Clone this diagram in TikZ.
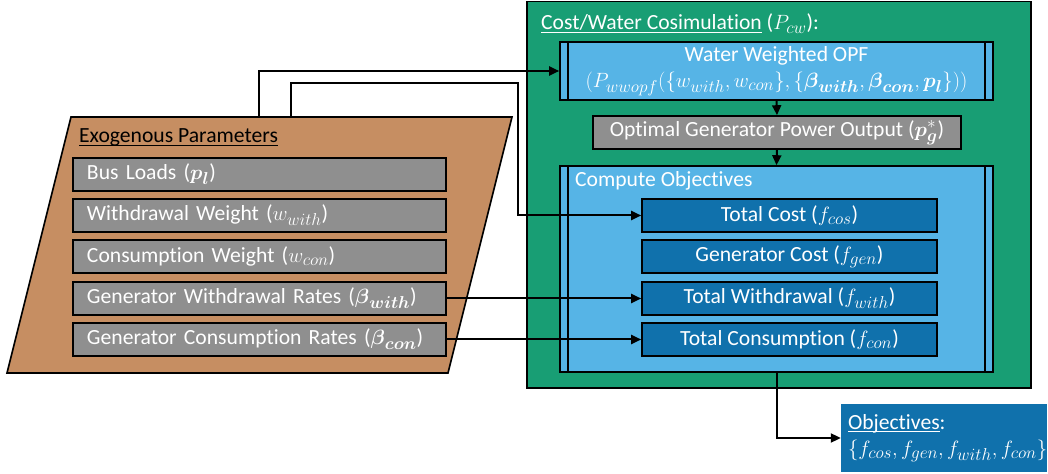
\documentclass[tikz,border=0pt]{standalone}
\usepackage{amsmath}
\usepackage{fontspec}
\setmainfont{Carlito}[Ligatures={NoCommon}]
\DeclareMathSizes{21.7}{21.7}{16.5}{13}
\newlength{\myullen}
\newcommand{\myul}[1]{\settowidth{\myullen}{#1}\rlap{\rule[-3bp]{\myullen}{1.2bp}}#1}
\usetikzlibrary{arrows.meta,calc}
\definecolor{cgreen}{RGB}{24,158,116}
\definecolor{clight}{RGB}{86,180,230}
\definecolor{cdark}{RGB}{16,113,172}
\definecolor{cgray}{RGB}{143,143,143}
\definecolor{ctan}{RGB}{198,142,98}
\begin{document}
\begin{tikzpicture}[x=1bp,y=-1bp,
  txt/.style={font=\fontsize{21.7pt}{26pt}\selectfont},
  box/.style={txt, draw=black, line width=1.6bp, inner sep=0pt, text=white},
  graybox/.style={box, fill=cgray, minimum height=33bp, text width=345bp, inner xsep=14bp, align=left},
  bluebox/.style={box, fill=cdark, minimum width=295bp, minimum height=33bp},
  procbox/.style={box, fill=clight, minimum width=433bp},
  conn/.style={line width=2bp, -{Triangle[length=10bp,width=9bp]}}]
\useasboundingbox (0,0) rectangle (1048,474);

% cosimulation container
\node[box, fill=cgreen, minimum width=504bp, minimum height=386.5bp] (cosim) at (779,194.75) {};
\node[txt, anchor=base west, text=white, inner sep=0pt] (cosimtitle) at (541,30) {\myul{Cost/Water Cosimulation} ($P_{cw}$):};

% water weighted OPF
\node[procbox, minimum height=58bp, align=center] (opf) at (776.5,71) {Water Weighted OPF\\[0bp]
$(P_{wwopf}(\{w_{with},w_{con}\},\{\boldsymbol{\beta}_{\boldsymbol{with}},\boldsymbol{\beta}_{\boldsymbol{con}},\boldsymbol{p}_{\boldsymbol{l}}\}))$};
\draw[line width=1.6bp] ([xshift=9bp]opf.north west) -- ([xshift=9bp]opf.south west);
\draw[line width=1.6bp] ([xshift=-9bp]opf.north east) -- ([xshift=-9bp]opf.south east);

% optimal generator output
\node[box, fill=cgray, minimum width=368bp, minimum height=33bp] (opt) at (777,132.5) {Optimal Generator Power Output ($\boldsymbol{p}_{\boldsymbol{g}}^{*}$)};

% compute objectives
\node[procbox, minimum height=206bp] (comp) at (776.5,269) {};
\draw[line width=1.6bp] ([xshift=9bp]comp.north west) -- ([xshift=9bp]comp.south west);
\draw[line width=1.6bp] ([xshift=-9bp]comp.north east) -- ([xshift=-9bp]comp.south east);
\node[txt, anchor=base west, text=white, inner sep=0pt] (comptitle) at (575,187) {Compute Objectives};

\node[bluebox] (tc)  at (789.5,215.5) {Total Cost ($f_{cos}$)};
\node[bluebox] (gc)  at (789.5,256.5) {Generator Cost ($f_{gen}$)};
\node[bluebox] (tw)  at (789.5,298.5) {Total Withdrawal ($f_{with}$)};
\node[bluebox] (tcn) at (789.5,339.5) {Total Consumption ($f_{con}$)};

% objectives output
\node[txt, fill=cdark, text=white, minimum width=206bp, minimum height=68bp, text width=192bp, inner xsep=7bp, inner ysep=0pt, align=left] (obj) at (944,438)
  {\myul{Objectives}:\\[0bp] $\{f_{cos},f_{gen},f_{with},f_{con}\}$};

% exogenous parameters
\draw[line width=1.6bp, fill=ctan] (71,117) -- (512,117) -- (448,373) -- (7,373) -- cycle;
\coordinate (exoA) at (259,117);
\coordinate (exoB) at (291,117);
\node[txt, anchor=base west, text=black, inner sep=0pt] (exotitle) at (79,143) {\myul{Exogenous Parameters}};
\node[graybox] (bus) at (259.5,174.5) {Bus Loads ($\boldsymbol{p}_{\boldsymbol{l}}$)};
\node[graybox] (ww)  at (259.5,215.5) {Withdrawal Weight ($w_{with}$)};
\node[graybox] (cw)  at (259.5,256.5) {Consumption Weight ($w_{con}$)};
\node[graybox] (gwr) at (259.5,298.5) {Generator Withdrawal Rates ($\boldsymbol{\beta}_{\boldsymbol{with}}$)};
\node[graybox] (gcr) at (259.5,339.5) {Generator Consumption Rates ($\boldsymbol{\beta}_{\boldsymbol{con}}$)};

% connectors
\draw[conn] (exoA) |- (opf.west);
\draw[conn] (exoB) |- ++(227,-34) |- (tc.west);
\draw[conn] (gwr.east) -- (tw.west);
\draw[conn] (gcr.east) -- (tcn.west);
\draw[conn] (opf.south) -- (opt.north);
\draw[conn] (opt.south) -- (comp.north);
\draw[conn] (comp.south) |- (obj.west);
\end{tikzpicture}
\end{document}
